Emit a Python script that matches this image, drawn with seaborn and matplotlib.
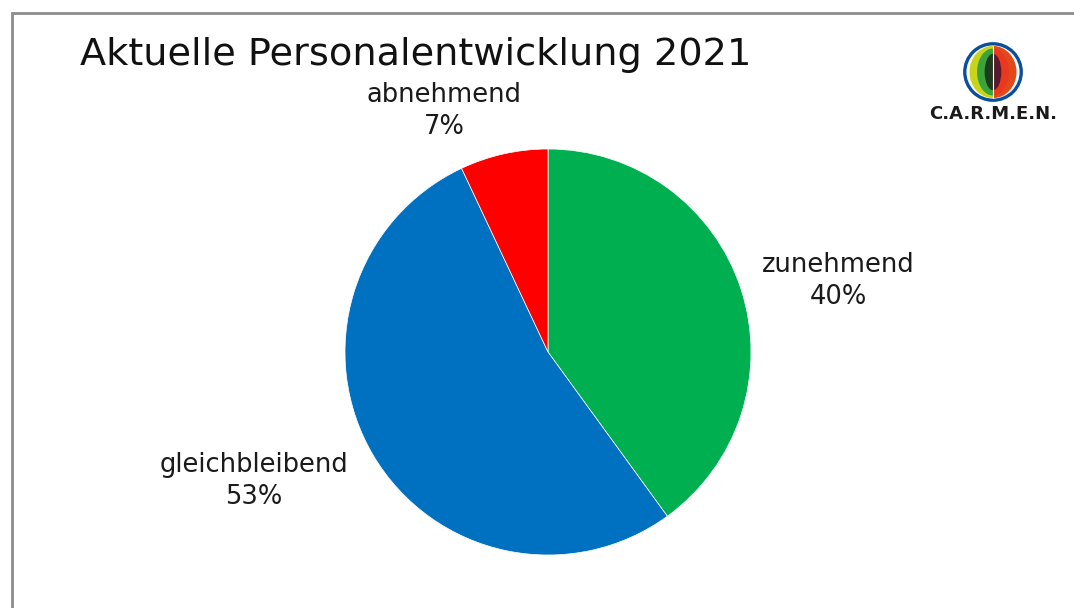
import matplotlib
matplotlib.use("Agg")
import matplotlib.pyplot as plt
import seaborn as sns
from matplotlib.patches import Ellipse, Rectangle, Circle

sns.set_theme(style="white")
plt.rcParams['font.family'] = ['DejaVu Sans']

categories = ["zunehmend", "gleichbleibend", "abnehmend"]
values = [40, 53, 7]
colors = ["#00B050", "#0070C0", "#FF0000"]
title = "Aktuelle Personalentwicklung 2021"

W, H = 1074, 608
fig = plt.figure(figsize=(W / 100, H / 100), dpi=100)
fig.patch.set_facecolor("white")

# outer chart border (cropped at right/bottom)
border = Rectangle((12 / W, -0.1), 1.2, (H - 13) / H + 0.1, transform=fig.transFigure,
                   fill=False, edgecolor="#8c8c8c", linewidth=2.0)
fig.add_artist(border)

cx, cy, r = 548, 352, 203
ax = fig.add_axes([(cx - r) / W, (H - cy - r) / H, 2 * r / W, 2 * r / H])
wedges, _ = ax.pie(values, colors=colors, startangle=90, counterclock=False,
                   radius=1.0, wedgeprops=dict(linewidth=0.5, edgecolor="white"))
ax.set_xlim(-1, 1)
ax.set_ylim(-1, 1)
ax.set_aspect("equal")
ax.axis("off")

# data labels (category + percent)
label_pos = [(838, 281), (254, 481), (444, 111)]
for (lx, ly), cat, v in zip(label_pos, categories, values):
    fig.text(lx / W, 1 - ly / H, f"{cat}\n{v}%", ha="center", va="center",
             fontsize=18.5, color="#1a1a1a", linespacing=1.28)

fig.text(80 / W, 1 - 55 / H, title, ha="left", va="center", fontsize=27.5, color="#111111")

# logo
lax = fig.add_axes([955 / W, 1 - 106 / H, 76 / W, 68 / H])
lax.set_xlim(-1.25, 1.25)
lax.set_ylim(-1.12, 1.12)
lax.set_aspect("equal")
lax.axis("off")
lax.add_patch(Circle((0, 0), 0.93, facecolor="white", edgecolor="#0a4f9c", linewidth=2.4))
def half_ellipse(w, h, color, side):
    e = Ellipse((0, 0), w, h, facecolor=color, edgecolor="none")
    lax.add_patch(e)
    clip = Rectangle((-2, -2) if side == "L" else (0, -2), 2, 4, transform=lax.transData)
    e.set_clip_path(clip)
half_ellipse(1.55, 1.72, "#c8d41a", "L")
half_ellipse(1.05, 1.55, "#3aa43a", "L")
half_ellipse(0.55, 1.2, "#1f3a1f", "L")
half_ellipse(1.55, 1.72, "#e24a1c", "R")
half_ellipse(1.05, 1.55, "#e8381e", "R")
half_ellipse(0.55, 1.2, "#5a1a2e", "R")
lax.plot([0, 0], [-0.86, 0.86], color="white", linewidth=0.8)
fig.text(993 / W, 1 - 114 / H, "C.A.R.M.E.N.", ha="center", va="center",
         fontsize=13, fontweight="bold", color="#1a1a1a")

fig.savefig("out.png", dpi=100, facecolor="white")
